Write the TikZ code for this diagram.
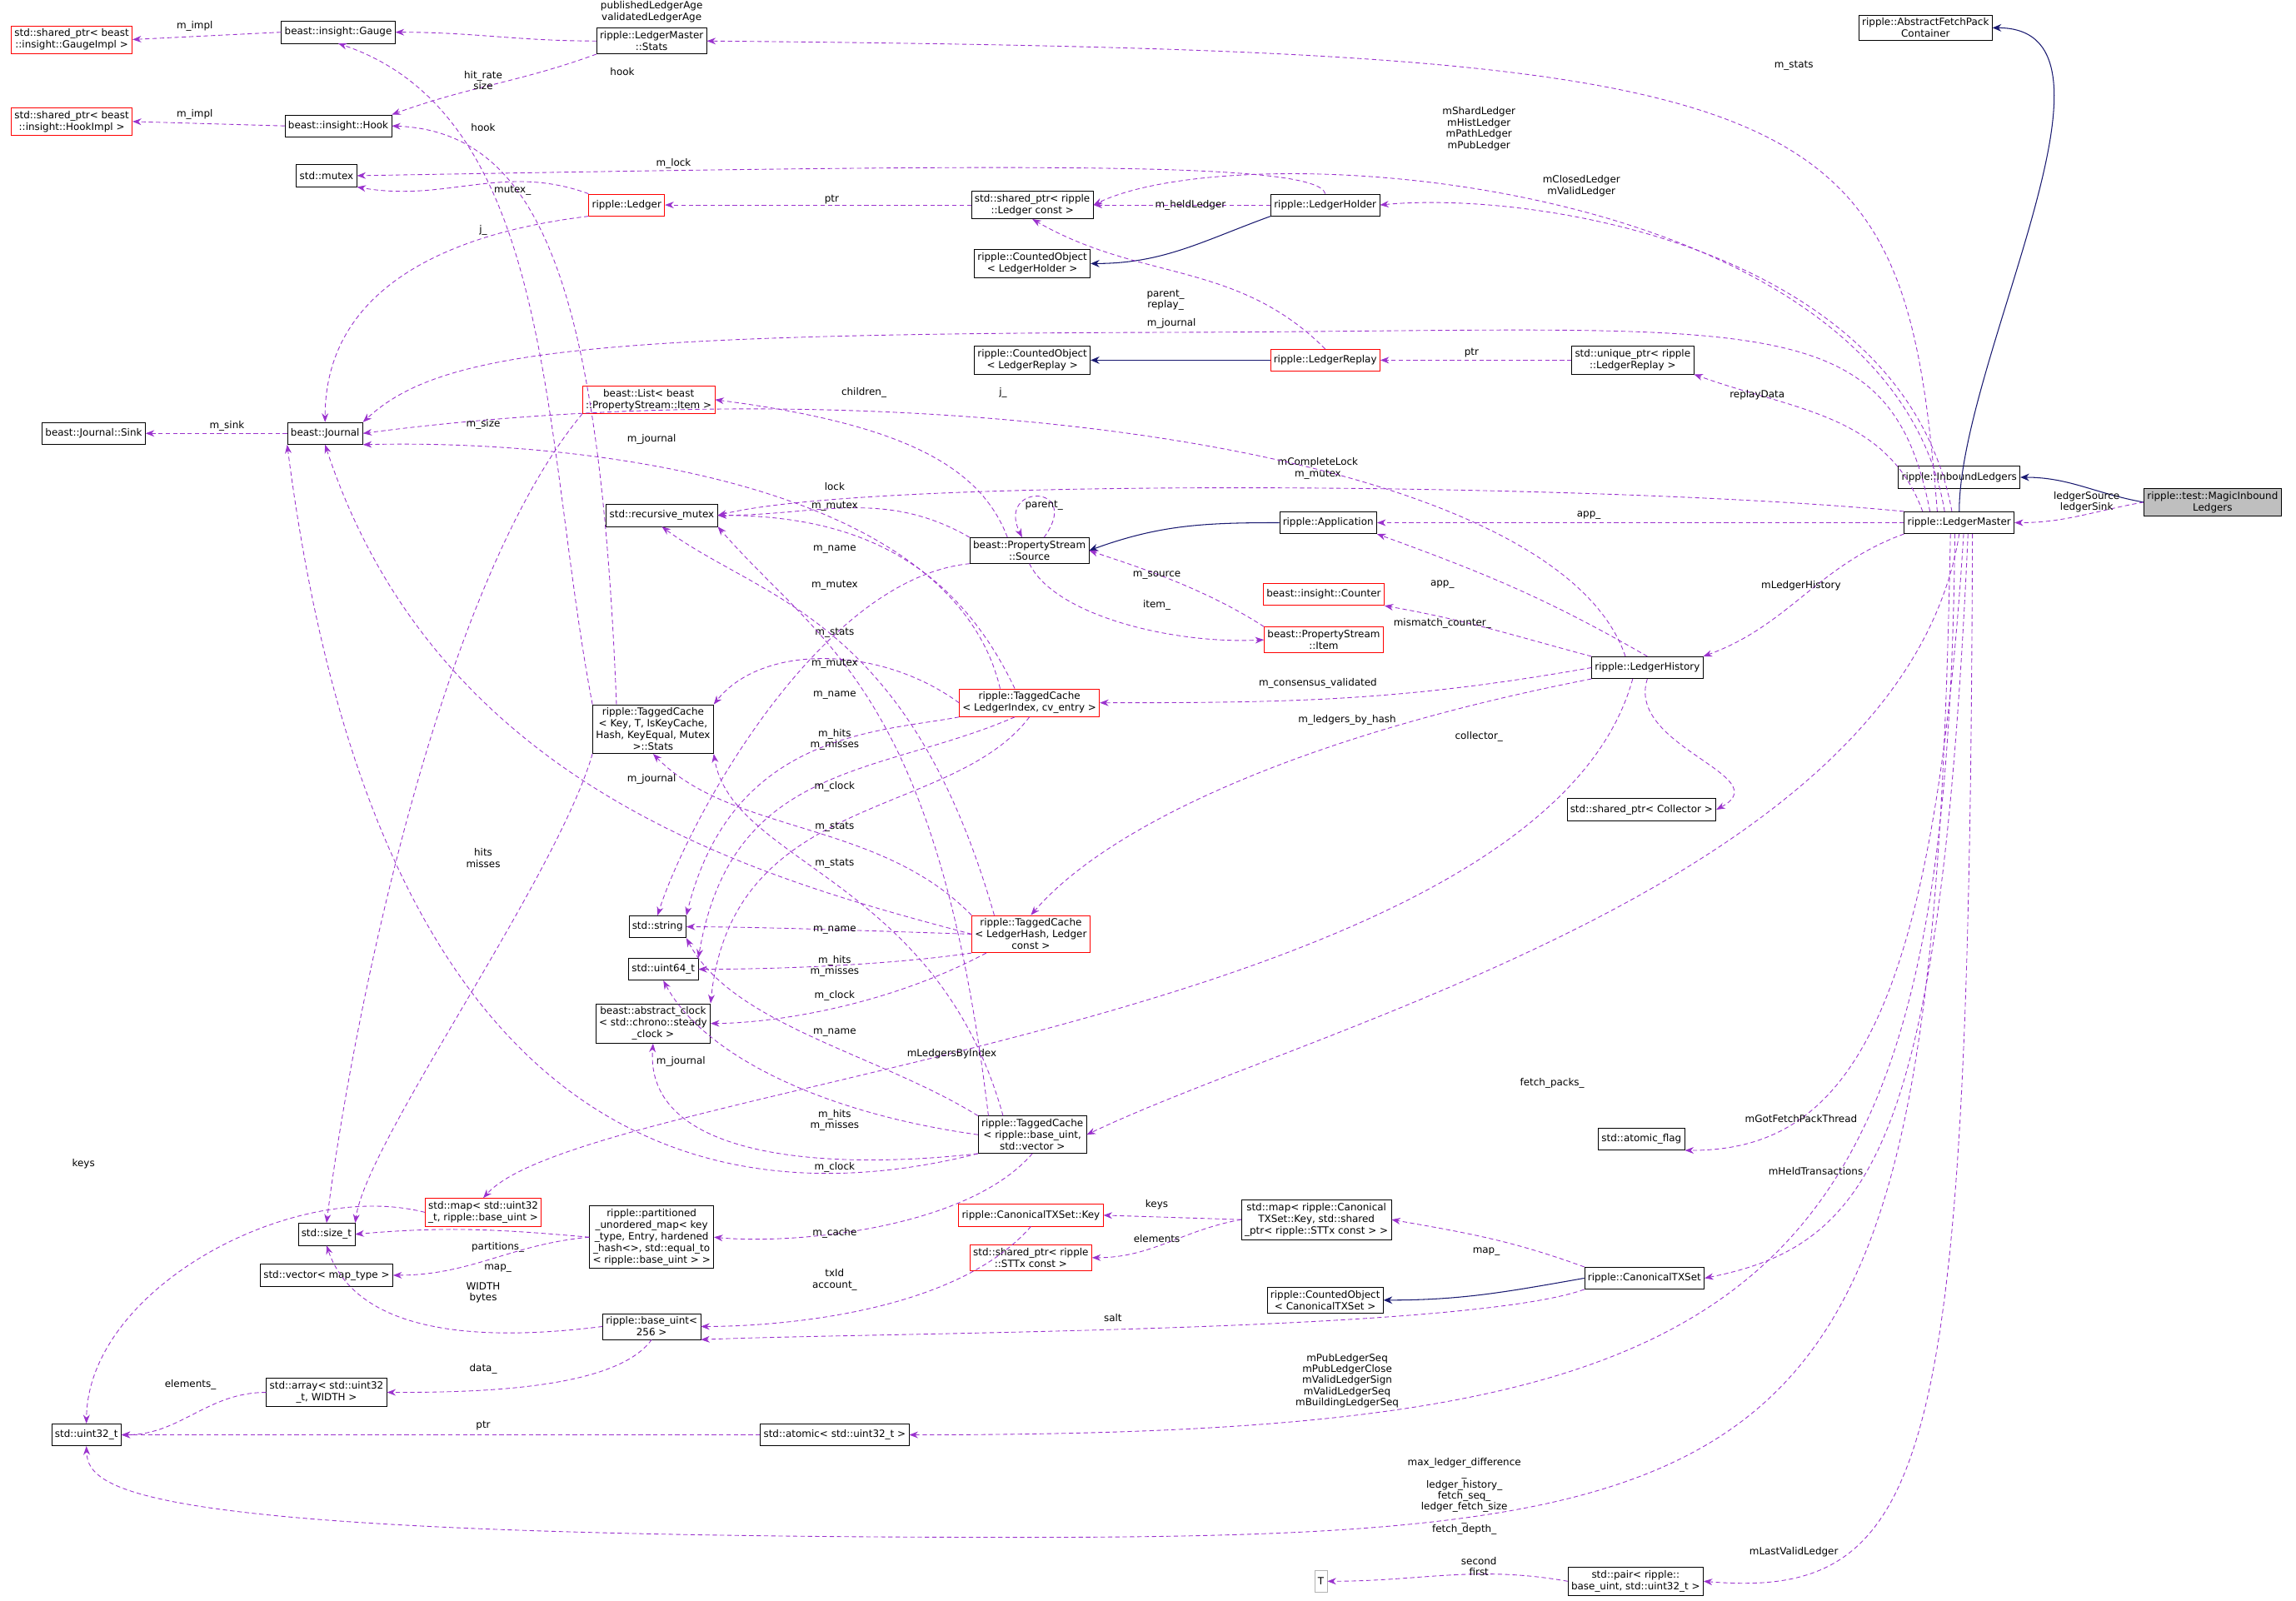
\documentclass[tikz,border=0pt]{standalone}
\usepackage{fontspec}
\setmainfont{DejaVu Sans}
\usetikzlibrary{arrows.meta}
\definecolor{mem}{HTML}{9A32CD}
\definecolor{inh}{HTML}{191970}
\tikzset{
 box/.style={draw=black,fill=white,inner sep=2.2pt,align=center,font=\fontsize{6.8}{7.9}\selectfont,minimum height=15pt},
 rbox/.style={box,draw=red},
 mm/.style={draw=mem,dashed,dash pattern=on 3pt off 2pt,-{Stealth[length=6pt,width=4.5pt]},line width=0.5pt},
 ih/.style={draw=inh,-{Stealth[length=6pt,width=5pt]},line width=0.6pt},
 lbl/.style={font=\fontsize{6.8}{7.6}\selectfont,align=center,inner sep=0pt,text=black}
}
\begin{document}
\begin{tikzpicture}[x=1pt,y=-1pt]
\useasboundingbox (0,0) rectangle (1568,1093);
% nodes
\node[rbox] (gaugeimpl) at (49,27) {std::shared\_ptr< beast\\::insight::GaugeImpl >};
\node[rbox] (hookimpl) at (49,83) {std::shared\_ptr< beast\\::insight::HookImpl >};
\node[box] (gauge) at (231,22) {beast::insight::Gauge};
\node[box] (hook) at (231,86) {beast::insight::Hook};
\node[box] (stats) at (445,28) {ripple::LedgerMaster\\::Stats};
\node[box] (mutex) at (223,120) {std::mutex};
\node[rbox] (ledger) at (428,140) {ripple::Ledger};
\node[box] (spledger) at (705,140) {std::shared\_ptr< ripple\\::Ledger const >};
\node[box] (ledgerholder) at (905,140) {ripple::LedgerHolder};
\node[box] (coledgerholder) at (705,180) {ripple::CountedObject\\< LedgerHolder >};
\node[box] (abstractfetch) at (1315,19) {ripple::AbstractFetchPack\\Container};
\node[box] (sink) at (64,296) {beast::Journal::Sink};
\node[box] (journal) at (222,296) {beast::Journal};
\node[box] (coledgerreplay) at (705,246) {ripple::CountedObject\\< LedgerReplay >};
\node[rbox] (ledgerreplay) at (905,246) {ripple::LedgerReplay};
\node[box] (upledgerreplay) at (1115,246) {std::unique\_ptr< ripple\\::LedgerReplay >};
\node[box] (inbound) at (1338,326) {ripple::InboundLedgers};
\node[box,fill=black!25] (magic) at (1511,343) {ripple::test::MagicInbound\\Ledgers};
\node[box] (lm) at (1338,357) {ripple::LedgerMaster};
\node[rbox] (list) at (443,273) {beast::List< beast\\::PropertyStream::Item >};
\node[box] (recmutex) at (452,352) {std::recursive\_mutex};
\node[box] (source) at (703,376) {beast::PropertyStream\\::Source};
\node[box] (application) at (907,357) {ripple::Application};
\node[rbox] (counter) at (904,406) {beast::insight::Counter};
\node[rbox] (item) at (904,437) {beast::PropertyStream\\::Item};
\node[box] (lh) at (1125,456) {ripple::LedgerHistory};
\node[box] (tcstats) at (446,498) {ripple::TaggedCache\\< Key, T, IsKeyCache,\\ Hash, KeyEqual, Mutex\\ >::Stats};
\node[rbox] (tc1) at (703,480) {ripple::TaggedCache\\< LedgerIndex, cv\_entry >};
\node[box] (spcollector) at (1121,553) {std::shared\_ptr< Collector >};
\node[rbox] (tc2) at (704,638) {ripple::TaggedCache\\< LedgerHash, Ledger\\ const >};
\node[box] (string) at (449,633) {std::string};
\node[box] (uint64) at (453,662) {std::uint64\_t};
\node[box] (clock) at (446,699) {beast::abstract\_clock\\< std::chrono::steady\\\_clock >};
\node[box] (tc3) at (705,775) {ripple::TaggedCache\\< ripple::base\_uint,\\ std::vector >};
\node[box] (atomicflag) at (1121,778) {std::atomic\_flag};
\node[rbox] (mapuint32) at (330,828) {std::map< std::uint32\\\_t, ripple::base\_uint >};
\node[box] (sizet) at (223,843) {std::size\_t};
\node[box] (partitioned) at (445,845) {ripple::partitioned\\\_unordered\_map< key\\\_type, Entry, hardened\\\_hash<>, std::equal\_to\\< ripple::base\_uint > >};
\node[box] (vectormap) at (223,871) {std::vector< map\_type >};
\node[rbox] (ctxkey) at (704,830) {ripple::CanonicalTXSet::Key};
\node[box] (mapctx) at (899,833) {std::map< ripple::Canonical\\TXSet::Key, std::shared\\\_ptr< ripple::STTx const > >};
\node[rbox] (spsttx) at (704,859) {std::shared\_ptr< ripple\\::STTx const >};
\node[box] (cocanon) at (905,888) {ripple::CountedObject\\< CanonicalTXSet >};
\node[box] (canon) at (1123,873) {ripple::CanonicalTXSet};
\node[box] (baseuint) at (445,906) {ripple::base\_uint<\\ 256 >};
\node[box] (array) at (223,951) {std::array< std::uint32\\\_t, WIDTH >};
\node[box] (uint32) at (59,980) {std::uint32\_t};
\node[box] (atomic32) at (570,980) {std::atomic< std::uint32\_t >};
\node[box,draw=black!30] (T) at (902,1080) {T};
\node[box] (pair) at (1117,1080) {std::pair< ripple::\\base\_uint, std::uint32\_t >};

% inheritance
\draw[ih] (ledgerholder.south west) to[out=200,in=0] (coledgerholder.east);
\draw[ih] (ledgerreplay.west) -- (coledgerreplay.east);
\draw[ih] (lm.north) to[out=90,in=0,looseness=0.8] (abstractfetch.east);
\draw[ih] (magic.west) to[out=170,in=0] (inbound.east);
\draw[ih] (application.west) to[out=180,in=20] (source.east);
\draw[ih] (canon.west) to[out=190,in=0] (cocanon.east);

% members
\draw[mm] (gauge.west) -- (gaugeimpl.east) node[lbl,at={(133,18)}]{m\_impl};
\draw[mm] (hook.west) -- (hookimpl.east) node[lbl,at={(133,78)}]{m\_impl};
\draw[mm] (stats.west) to[out=180,in=0] (gauge.east) node[lbl,at={(445,8)}]{publishedLedgerAge\\validatedLedgerAge};
\draw[mm] (stats.south west) to[out=200,in=20] (hook.north east) node[lbl,at={(425,49)}]{hook};
\draw[mm] (tcstats.north west) .. controls (370,300) and (380,80) .. (gauge.south) node[lbl,at={(330,55)}]{hit\_rate\\size};
\draw[mm] ([xshift=-25pt]tcstats.north) .. controls (410,200) and (370,90) .. (hook.east) node[lbl,at={(330,87)}]{hook};
\draw[mm] (ledgerholder.north) .. controls (900,110) and (700,112) .. (mutex.east) node[lbl,at={(460,112)}]{m\_lock};
\draw[mm] (ledger.north west) to[out=160,in=-10] (mutex.south east) node[lbl,at={(350,130)}]{mutex\_};
\draw[mm] (ledger.south west) .. controls (300,160) and (222,200) .. (journal.north) node[lbl,at={(330,157)}]{j\_};
\draw[mm] (spledger.west) -- (ledger.east) node[lbl,at={(568,136)}]{ptr};
\draw[mm] (ledgerholder.west) -- (spledger.east) node[lbl,at={(813,140)}]{m\_heldLedger};
\draw[mm] (ledgerreplay.north) to[out=135,in=-30] (spledger.south) node[lbl,at={(796,205)}]{parent\_\\replay\_};
\draw[mm] (upledgerreplay.west) -- (ledgerreplay.east) node[lbl,at={(1005,241)}]{ptr};
\draw[mm] (magic.west) to[out=190,in=0] (lm.east) node[lbl,at={(1425,343)}]{ledgerSource\\ledgerSink};
\draw[mm] ([xshift=-15pt]lm.north) .. controls (1300,60) and (1250,35) .. (stats.east) node[lbl,at={(1225,45)}]{m\_stats};
\draw[mm] ([xshift=-10pt]lm.north) .. controls (1290,120) and (850,90) .. (spledger.east) node[lbl,at={(1010,88)}]{mShardLedger\\mHistLedger\\mPathLedger\\mPubLedger};
\draw[mm] ([xshift=-5pt]lm.north) .. controls (1300,170) and (1050,130) .. (ledgerholder.east) node[lbl,at={(1080,127)}]{mClosedLedger\\mValidLedger};
\draw[mm] ([xshift=-20pt]lm.north) .. controls (1290,205) and (1200,226) .. (800,227) .. controls (400,228) and (300,240) .. (journal.north east) node[lbl,at={(800,221)}]{m\_journal};
\draw[mm] ([xshift=-25pt]lm.north) to[out=110,in=-20] (upledgerreplay.south east) node[lbl,at={(1200,270)}]{replayData};
\draw[mm] (lm.north west) .. controls (1100,330) and (600,325) .. (recmutex.east) node[lbl,at={(900,320)}]{mCompleteLock\\m\_mutex};
\draw[mm] (lm.west) -- (application.east) node[lbl,at={(1085,352)}]{app\_};
\draw[mm] (lm.south west) to[out=200,in=20] (lh.north east) node[lbl,at={(1230,400)}]{mLedgerHistory};
\draw[mm] (lm.south) .. controls (1300,600) and (900,700) .. (tc3.east) node[lbl,at={(1060,740)}]{fetch\_packs\_};
\draw[mm] ([xshift=3pt]lm.south) .. controls (1320,700) and (1260,786) .. (atomicflag.south east) node[lbl,at={(1230,764)}]{mGotFetchPackThread};
\draw[mm] ([xshift=6pt]lm.south) .. controls (1325,780) and (1280,850) .. (canon.east) node[lbl,at={(1240,800)}]{mHeldTransactions};
\draw[mm] ([xshift=-3pt]lm.south) .. controls (1330,900) and (1200,980) .. (atomic32.east) node[lbl,at={(920,943)}]{mPubLedgerSeq\\mPubLedgerClose\\mValidLedgerSign\\mValidLedgerSeq\\mBuildingLedgerSeq};
\draw[mm] ([xshift=-6pt]lm.south) .. controls (1320,1000) and (1250,1050) .. (700,1050) .. controls (100,1050) and (60,1020) .. (uint32.south) node[lbl,at={(1000,1022)}]{max\_ledger\_difference\\\_\\ledger\_history\_\\fetch\_seq\_\\ledger\_fetch\_size\\\_\\fetch\_depth\_};
\draw[mm] ([xshift=9pt]lm.south) .. controls (1345,1000) and (1320,1093) .. (pair.east) node[lbl,at={(1225,1060)}]{mLastValidLedger};
\draw[mm] (journal.west) -- (sink.east) node[lbl,at={(155,291)}]{m\_sink};
\draw[mm] ([xshift=-15pt]source.north) .. controls (670,320) and (620,290) .. (list.east) node[lbl,at={(590,268)}]{children\_};
\draw[mm] (source.north west) to[out=150,in=0] (recmutex.east) node[lbl,at={(570,332)}]{lock};
\draw[mm] ([xshift=10pt]source.north) .. controls (740,330) and (680,330) .. ([xshift=-5pt]source.north) node[lbl,at={(713,345)}]{parent\_};
\draw[mm] (source.south west) .. controls (560,395) and (470,560) .. (string.north) node[lbl,at={(570,375)}]{m\_name};
\draw[mm] (source.south) .. controls (720,420) and (800,440) .. (item.west) node[lbl,at={(790,413)}]{item\_};
\draw[mm] (item.north west) .. controls (820,400) and (770,385) .. (source.east) node[lbl,at={(790,393)}]{m\_source};
\draw[mm] (lh.north) to[out=150,in=-20] (application.south east) node[lbl,at={(985,399)}]{app\_};
\draw[mm] (lh.north west) to[out=165,in=-10] (counter.south east) node[lbl,at={(985,426)}]{mismatch\_counter\_};
\draw[mm] (lh.west) to[out=190,in=0] (tc1.east) node[lbl,at={(900,467)}]{m\_consensus\_validated};
\draw[mm] (lh.south west) .. controls (900,500) and (760,560) .. (tc2.north) node[lbl,at={(920,492)}]{m\_ledgers\_by\_hash};
\draw[mm] (lh.south) .. controls (1110,510) and (1215,530) .. (spcollector.east) node[lbl,at={(1010,503)}]{collector\_};
\draw[mm] ([xshift=-15pt]lh.north) .. controls (1060,300) and (600,250) .. (journal.east) node[lbl,at={(685,268)}]{j\_};
\draw[mm] ([xshift=-10pt]lh.south) .. controls (1050,700) and (400,740) .. (mapuint32.north) node[lbl,at={(650,720)}]{mLedgersByIndex};
\draw[mm] (list.south west) .. controls (300,400) and (240,700) .. (sizet.north) node[lbl,at={(330,290)}]{m\_size};
% tc1
\draw[mm] ([xshift=-20pt]tc1.north) .. controls (650,330) and (400,300) .. (journal.south east) node[lbl,at={(445,300)}]{m\_journal};
\draw[mm] ([xshift=-10pt]tc1.north) .. controls (650,380) and (580,352) .. (recmutex.east) node[lbl,at={(570,346)}]{m\_mutex};
\draw[mm] (tc1.west) .. controls (600,440) and (520,440) .. (tcstats.north east) node[lbl,at={(570,432)}]{m\_stats};
\draw[mm] (tc1.south west) .. controls (600,500) and (500,500) .. (string.north east) node[lbl,at={(570,475)}]{m\_name};
\draw[mm] ([xshift=-10pt]tc1.south) .. controls (600,530) and (500,520) .. (uint64.north east) node[lbl,at={(570,505)}]{m\_hits\\m\_misses};
\draw[mm] (tc1.south) .. controls (650,560) and (500,540) .. (clock.north east) node[lbl,at={(570,537)}]{m\_clock};
% tc2
\draw[mm] ([xshift=-25pt]tc2.north) .. controls (620,420) and (520,410) .. (recmutex.south) node[lbl,at={(570,400)}]{m\_mutex};
\draw[mm] (tc2.north west) .. controls (600,560) and (500,570) .. (tcstats.south) node[lbl,at={(570,565)}]{m\_stats};
\draw[mm] (tc2.west) .. controls (600,636) and (520,633) .. (string.east) node[lbl,at={(570,635)}]{m\_name};
\draw[mm] (tc2.south west) .. controls (600,660) and (520,662) .. (uint64.east) node[lbl,at={(570,660)}]{m\_hits\\m\_misses};
\draw[mm] ([xshift=10pt]tc2.south west) .. controls (600,690) and (520,699) .. (clock.east) node[lbl,at={(570,680)}]{m\_clock};
\draw[mm] (tc2.west) .. controls (520,600) and (300,540) .. (journal.south) node[lbl,at={(445,532)}]{m\_journal};
% tc3
\draw[mm] ([xshift=-30pt]tc3.north) .. controls (640,470) and (560,440) .. (recmutex.south east) node[lbl,at={(570,453)}]{m\_mutex};
\draw[mm] ([xshift=-20pt]tc3.north) .. controls (640,600) and (500,590) .. (tcstats.south east) node[lbl,at={(570,590)}]{m\_stats};
\draw[mm] (tc3.north west) .. controls (600,720) and (500,700) .. (string.south east) node[lbl,at={(570,705)}]{m\_name};
\draw[mm] (tc3.west) .. controls (560,760) and (480,720) .. (uint64.south) node[lbl,at={(570,765)}]{m\_hits\\m\_misses};
\draw[mm] (tc3.south west) .. controls (560,800) and (440,790) .. (clock.south) node[lbl,at={(570,797)}]{m\_clock};
\draw[mm] (tc3.south west) .. controls (500,830) and (260,800) .. (journal.south west) node[lbl,at={(465,725)}]{m\_journal};
\draw[mm] (tc3.south) .. controls (660,840) and (540,850) .. (partitioned.east) node[lbl,at={(570,842)}]{m\_cache};
\draw[mm] (tcstats.south west) .. controls (380,600) and (250,780) .. (sizet.north east) node[lbl,at={(330,586)}]{hits\\misses};
\draw[mm] (mapuint32.west) .. controls (200,805) and (60,880) .. (uint32.north) node[lbl,at={(57,795)}]{keys};
\draw[mm] (partitioned.west) to[out=175,in=5] (sizet.east) node[lbl,at={(340,852)}]{partitions\_};
\draw[mm] (partitioned.west) to[out=185,in=0] (vectormap.east) node[lbl,at={(340,866)}]{map\_};
\draw[mm] (baseuint.west) .. controls (300,920) and (240,900) .. (sizet.south) node[lbl,at={(330,883)}]{WIDTH\\bytes};
\draw[mm] (baseuint.south) .. controls (420,950) and (320,951) .. (array.east) node[lbl,at={(330,935)}]{data\_};
\draw[mm] (array.west) to[out=180,in=0] (uint32.east) node[lbl,at={(130,946)}]{elements\_};
\draw[mm] (atomic32.west) -- (uint32.east) node[lbl,at={(330,974)}]{ptr};
\draw[mm] (ctxkey.south) .. controls (650,900) and (520,906) .. (baseuint.east) node[lbl,at={(570,874)}]{txId\\account\_};
\draw[mm] (mapctx.west) -- (ctxkey.east) node[lbl,at={(790,823)}]{keys};
\draw[mm] (mapctx.west) to[out=190,in=0] (spsttx.east) node[lbl,at={(790,846)}]{elements};
\draw[mm] (canon.north west) to[out=160,in=-10] (mapctx.east) node[lbl,at={(1015,855)}]{map\_};
\draw[mm] (canon.south west) .. controls (1000,910) and (600,910) .. (baseuint.south east) node[lbl,at={(760,900)}]{salt};
\draw[mm] (pair.west) to[out=170,in=0] (T.east) node[lbl,at={(1010,1070)}]{second\\first};
\end{tikzpicture}
\end{document}
